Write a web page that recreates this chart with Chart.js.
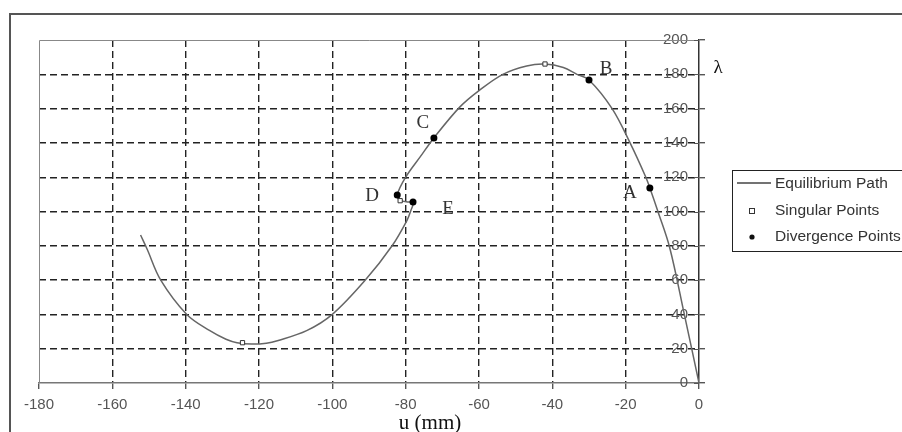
<!DOCTYPE html>
<html>
<head>
<meta charset="utf-8">
<script src="https://cdn.jsdelivr.net/npm/chart.js@4.4.1/dist/chart.umd.min.js"></script>
<style>
  html, body { margin: 0; padding: 0; background: #fff; }
  #wrap { width: 902px; height: 432px; }
</style>
</head>
<body>
<div id="wrap"><canvas id="pathChart" width="902" height="432"></canvas></div>
<script>
// equilibrium path, u (mm) vs lambda
const pathU = [0, -4, -8, -11.2, -13.4, -14.5, -18.8, -23.7, -30, -33.3, -37, -42, -47, -53.5, -60, -65.2, -72.3, -76, -80, -82.3, -81.5, -79.5, -78, -78.6, -79.6, -83.7, -91, -100, -107, -115, -118, -122, -126, -129, -133.4, -139.7, -146.8, -150.5, -152.3];
const pathL = [0, 40, 79, 100, 113.7, 120, 140, 160, 176.7, 180, 184, 186, 184.9, 180, 170.5, 161, 142.9, 132, 120, 109.6, 106.5, 105.6, 105, 100.5, 95, 80, 60, 40, 30.5, 24.6, 23.2, 22.7, 23.5, 25.5, 30.5, 40, 60, 78, 86.3];

// singular points
const singU = [-42, -81.5, -124.5];
const singL = [186, 106.3, 23.5];

// divergence points
const divU = [-13.4, -30, -72.3, -82.3, -78];
const divL = [113.7, 176.7, 142.9, 109.6, 105.5];
const divNames = ['A', 'B', 'C', 'D', 'E'];

const xTicks = [-180, -160, -140, -120, -100, -80, -60, -40, -20, 0];
const yTicks = [0, 20, 40, 60, 80, 100, 120, 140, 160, 180, 200];

const legendNames = ['Equilibrium Path', 'Singular Points', 'Divergence Points'];

function toXY(us, ls) {
    return us.map((u, i) => ({ x: u, y: ls[i] }));
}

// frame, labels and legend drawn on top
const extras = {
    id: 'extras',
    beforeDatasetsDraw(chart) {
        const { ctx, chartArea: a } = chart;
        ctx.save();
        ctx.strokeStyle = '#888';
        ctx.lineWidth = 1;
        ctx.beginPath();
        ctx.moveTo(a.left + 0.5, a.bottom);
        ctx.lineTo(a.left + 0.5, a.top + 0.5);
        ctx.lineTo(a.right, a.top + 0.5);
        ctx.stroke();
        // y tick marks also poke into the plot
        ctx.strokeStyle = '#555';
        ctx.beginPath();
        yTicks.forEach(v => {
            const py = Math.round(chart.scales.y.getPixelForValue(v)) + 0.5;
            ctx.moveTo(a.right - 5, py);
            ctx.lineTo(a.right, py);
        });
        ctx.stroke();
        ctx.restore();
    },
    afterDraw(chart) {
        const { ctx } = chart;
        const xs = chart.scales.x, ys = chart.scales.y;
        ctx.save();

        // outer frame
        ctx.strokeStyle = '#555';
        ctx.lineWidth = 2;
        ctx.strokeRect(10, 14, 900, 430);

        // point letters
        const offs = [[-20, 5], [17, -11], [-11, -15], [-25, 1], [35, 7]];
        ctx.fillStyle = '#333';
        ctx.font = '19px "Liberation Serif", "DejaVu Serif", serif';
        ctx.textAlign = 'center';
        ctx.textBaseline = 'middle';
        divNames.forEach((n, i) => {
            const px = xs.getPixelForValue(divU[i]);
            const py = ys.getPixelForValue(divL[i]);
            ctx.fillText(n, px + offs[i][0], py + offs[i][1]);
        });

        // axis titles
        ctx.fillStyle = '#111';
        ctx.font = '19px "Liberation Serif", "DejaVu Serif", serif';
        ctx.fillText('λ', 718, 68);
        ctx.textBaseline = 'alphabetic';
        ctx.font = '21px "Liberation Serif", "DejaVu Serif", serif';
        ctx.fillText('u (mm)', 430, 429);

        // legend
        ctx.textBaseline = 'middle';
        ctx.strokeStyle = '#222';
        ctx.lineWidth = 1;
        ctx.strokeRect(732.5, 170.5, 180, 81);
        ctx.beginPath();
        ctx.strokeStyle = '#444';
        ctx.lineWidth = 1.3;
        ctx.moveTo(737, 183);
        ctx.lineTo(771, 183);
        ctx.stroke();
        ctx.fillStyle = '#fff';
        ctx.strokeStyle = '#333';
        ctx.lineWidth = 1;
        ctx.fillRect(749.5, 208.5, 5, 5);
        ctx.strokeRect(749.5, 208.5, 5, 5);
        ctx.fillStyle = '#111';
        ctx.beginPath();
        ctx.arc(752, 237, 2.6, 0, Math.PI * 2);
        ctx.fill();
        ctx.fillStyle = '#333';
        ctx.textAlign = 'left';
        ctx.font = '15.5px "Liberation Sans", Arial, sans-serif';
        ctx.fillText(legendNames[0], 775, 184);
        ctx.fillText(legendNames[1], 775, 211);
        ctx.fillText(legendNames[2], 775, 237);
        ctx.restore();
    }
};

const tickFont = { family: '"Liberation Sans", Arial, sans-serif', size: 15 };

const pathChart = new Chart(document.getElementById('pathChart').getContext('2d'), {
    type: 'scatter',
    data: {
        datasets: [{
            label: legendNames[0],
            data: toXY(pathU, pathL),
            showLine: true,
            borderColor: '#666',
            borderWidth: 1.5,
            pointRadius: 0,
            tension: 0.35,
            order: 3
        }, {
            label: legendNames[1],
            data: toXY(singU, singL),
            pointStyle: 'rect',
            pointRadius: 3,
            backgroundColor: '#fff',
            borderColor: '#333',
            borderWidth: 1,
            order: 2
        }, {
            label: legendNames[2],
            data: toXY(divU, divL),
            pointStyle: 'circle',
            pointRadius: 3.5,
            backgroundColor: '#000',
            borderColor: '#000',
            borderWidth: 0,
            order: 1
        }]
    },
    options: {
        responsive: false,
        animation: false,
        layout: { padding: { left: 39, top: 40, right: 193, bottom: 0 } },
        plugins: {
            legend: { display: false },
            tooltip: { enabled: false }
        },
        scales: {
            x: {
                type: 'linear',
                min: -180,
                max: 0,
                afterBuildTicks: s => { s.ticks = xTicks.map(v => ({ value: v })); },
                afterFit: s => { s.height = 49; },
                ticks: { color: '#555', font: tickFont, padding: 7 },
                grid: {
                    color: c => (c.tick && (c.tick.value === -180 || c.tick.value === 0)) ? 'rgba(0,0,0,0)' : '#222',
                    lineWidth: 1.4,
                    tickColor: '#555',
                    tickLength: 6
                },
                border: { color: '#777', width: 1.5, dash: [7, 4] }
            },
            y: {
                type: 'linear',
                position: 'right',
                min: 0,
                max: 200,
                afterBuildTicks: s => { s.ticks = yTicks.map(v => ({ value: v })); },
                afterFit: s => { s.width = 10; },
                ticks: { color: '#555', font: tickFont, mirror: true, padding: -11 },
                grid: {
                    color: c => (c.tick && (c.tick.value === 0 || c.tick.value === 200)) ? 'rgba(0,0,0,0)' : '#222',
                    lineWidth: 1.4,
                    tickColor: '#555',
                    tickLength: 6
                },
                border: { color: '#333', width: 1.5, dash: [7, 4] }
            }
        }
    },
    plugins: [extras]
});
</script>
</body>
</html>
